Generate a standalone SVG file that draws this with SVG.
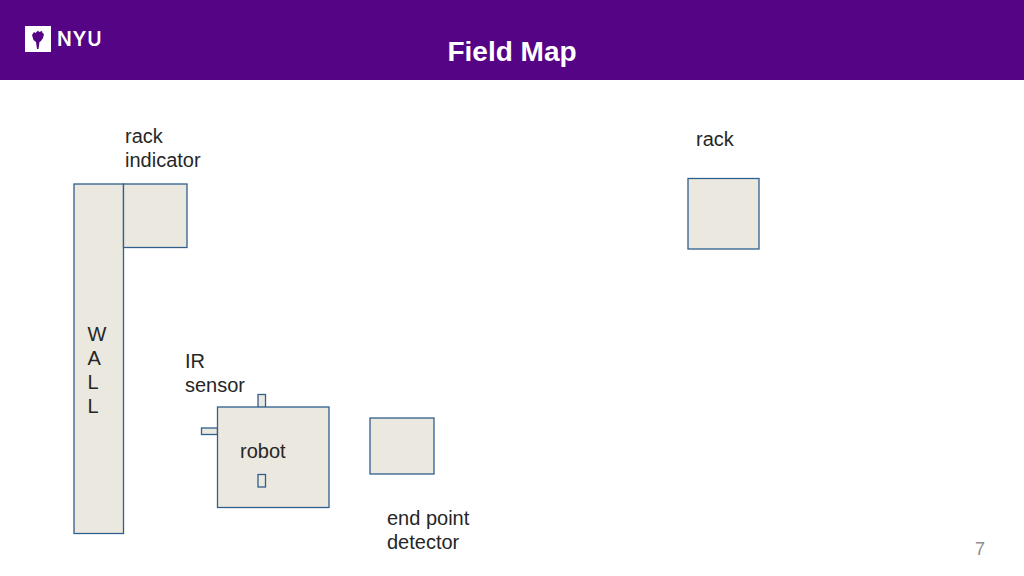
<svg xmlns="http://www.w3.org/2000/svg" width="1024" height="576" viewBox="0 0 1024 576">
<style>
.b{fill:#ebe8df;stroke:#2f5f8c;stroke-width:1.300}
.t{font-family:"Liberation Sans",Arial,sans-serif;font-size:20px;fill:#262626}
</style>
<rect width="1024" height="576" fill="#fff"/>
<g id="header">
<rect width="1024" height="80" fill="#540484"/>
<rect x="25" y="26" width="26" height="26" fill="#fff"/>
<path d="M32 35 L34 32 L35.500 33 L38 30.500 L39 32 L42 31 L42.500 33 L44 34 L43 38 L41 41 L39.500 42 L38.500 49 L37 49 L36 42 L33.500 40 Z" fill="#540484"/>
<text x="57" y="46" font-family="Inter,'Liberation Sans',sans-serif" font-size="19.500" font-weight="600" letter-spacing="0.800" fill="#fff">NYU</text>
<text x="512" y="61" text-anchor="middle" font-family="'Liberation Sans',Arial,sans-serif" font-size="28" font-weight="700" fill="#fff">Field Map</text>
</g>
<g id="wall"><rect class="b" x="74" y="184" width="49.500" height="349.500"/>
<text class="t"><tspan x="87.500" y="341">W</tspan><tspan x="87.500" y="365">A</tspan><tspan x="87.500" y="389">L</tspan><tspan x="87.500" y="413">L</tspan></text></g>
<g id="rack-indicator"><rect class="b" x="123.500" y="184" width="63.500" height="63.500"/>
<text class="t"><tspan x="125" y="143">rack</tspan><tspan x="125" y="167">indicator</tspan></text></g>
<g id="rack"><rect class="b" x="688" y="178.500" width="71" height="70.500"/>
<text class="t" x="696" y="146">rack</text></g>
<g id="ir-sensor">
<rect class="b" x="258" y="394.500" width="7.500" height="13"/>
<rect class="b" x="201.500" y="428" width="16" height="6.500"/>
<text class="t"><tspan x="185" y="368">IR</tspan><tspan x="185" y="392">sensor</tspan></text></g>
<g id="robot"><rect class="b" x="217.500" y="407" width="111.500" height="100.500"/>
<text class="t" x="240" y="458">robot</text>
<rect class="b" x="258" y="474.500" width="7.500" height="12.500"/></g>
<g id="end-point-detector"><rect class="b" x="370" y="418" width="64" height="56"/>
<text class="t"><tspan x="387" y="525">end point</tspan><tspan x="387" y="549">detector</tspan></text></g>
<g id="connectors"/>
<text x="980" y="555" text-anchor="middle" font-family="'Liberation Sans',Arial,sans-serif" font-size="18" fill="#8c8c8c">7</text>
</svg>
